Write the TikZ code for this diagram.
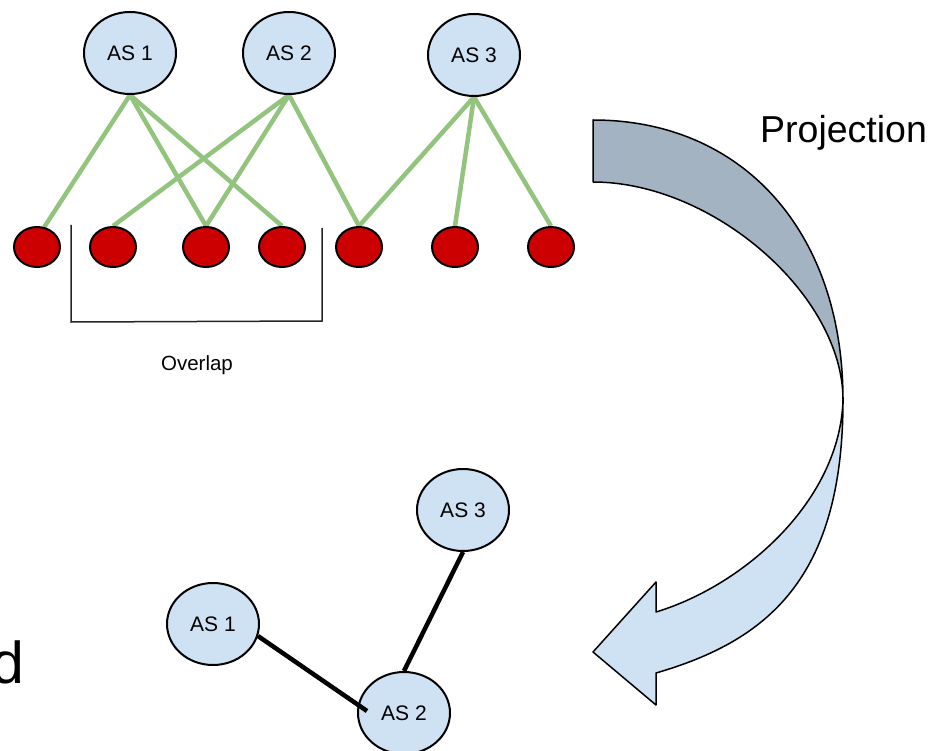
\documentclass[tikz,border=0pt]{standalone}
\usepackage{fontspec}
\setmainfont{Liberation Sans}
\usetikzlibrary{shapes.geometric,backgrounds,calc}
\definecolor{nodeblue}{HTML}{CFE2F3}
\definecolor{nodered}{HTML}{CC0000}
\definecolor{edgegreen}{HTML}{93C47D}
\definecolor{arrowdark}{HTML}{A3B3C2}
\begin{document}
\begin{tikzpicture}[x=1pt,y=-1pt,
  asnode/.style={ellipse,draw=black,line width=2pt,fill=nodeblue,minimum width=92pt,minimum height=82pt,inner sep=0pt,font=\fontsize{21}{25}\selectfont},
  rednode/.style={ellipse,draw=black,line width=2pt,fill=nodered,minimum width=46pt,minimum height=40pt,inner sep=0pt},
  greenedge/.style={draw=edgegreen,line width=4.5pt},
  blackedge/.style={draw=black,line width=4.5pt},
  bracketline/.style={draw=black!85,line width=1.5pt},
  arrowface/.style={draw=black,line width=1.5pt,line join=round},
  labeltext/.style={inner sep=0pt}]
\useasboundingbox (0,0) rectangle (928,751);
\clip (0,0) rectangle (928,751);

% top layer: AS nodes
\node[asnode] (t1) at (130,53) {AS 1};
\node[asnode] (t2) at (289,53) {AS 2};
\node[asnode] (t3) at (474,55) {AS 3};

% red nodes
\node[rednode] (r1) at (37,247) {};
\node[rednode] (r2) at (113,247) {};
\node[rednode] (r3) at (206,247) {};
\node[rednode] (r4) at (282,247) {};
\node[rednode] (r5) at (359,247) {};
\node[rednode] (r6) at (455,247) {};
\node[rednode] (r7) at (551,247) {};

\begin{scope}[on background layer]
  \draw[greenedge] (t1.south) -- (r1.70);
  \draw[greenedge] (t1.south) -- (r3.north);
  \draw[greenedge] (t1.south) -- (r4.north);
  \draw[greenedge] (t2.south) -- (r2.north);
  \draw[greenedge] (t2.south) -- (r3.north);
  \draw[greenedge] (t2.south) -- (r5.north);
  \draw[greenedge] (t3.south) -- (r5.north);
  \draw[greenedge] (t3.south) -- (r6.north);
  \draw[greenedge] (t3.south) -- (r7.north);
\end{scope}

% overlap bracket
\draw[bracketline] (71,225) -- (71,322) -- (322,321) -- (322,228);
\node[labeltext,anchor=base,font=\fontsize{20.5}{24}\selectfont] (ov) at (197,370) {Overlap};

% projection arrow
\draw[arrowface,fill=arrowdark] (593,120) .. controls (743,120) and (843,232) .. (843,400)
   .. controls (843,295) and (713,182) .. (593,182) -- cycle;
\draw[arrowface,fill=nodeblue] (843,400) .. controls (843,580) and (766,641) .. (656,673)
   -- (656,705) -- (593,652) -- (656,582) -- (656,612)
   .. controls (745,585) and (840,500) .. (843,400) -- cycle;
\node[labeltext,anchor=base west,font=\fontsize{37.5}{42}\selectfont] (proj) at (760,143) {Projection};

% bottom graph
\node[asnode] (b1) at (213,624) {AS 1};
\node[asnode] (b3) at (463,510) {AS 3};
\node[asnode] (b2) at (404,713) {AS 2};
\draw[blackedge] (b3.south) -- (b2.north);
\coordinate (e12) at ($(b2.center)+(-37,-2)$);
\draw[blackedge] (b1.-15) -- (e12);

% cut-off letter at left edge (cut in the reference too)
\node[labeltext,anchor=base west,font=\fontsize{59}{65}\selectfont] (dd) at (-9,683) {d};
\end{tikzpicture}
\end{document}
